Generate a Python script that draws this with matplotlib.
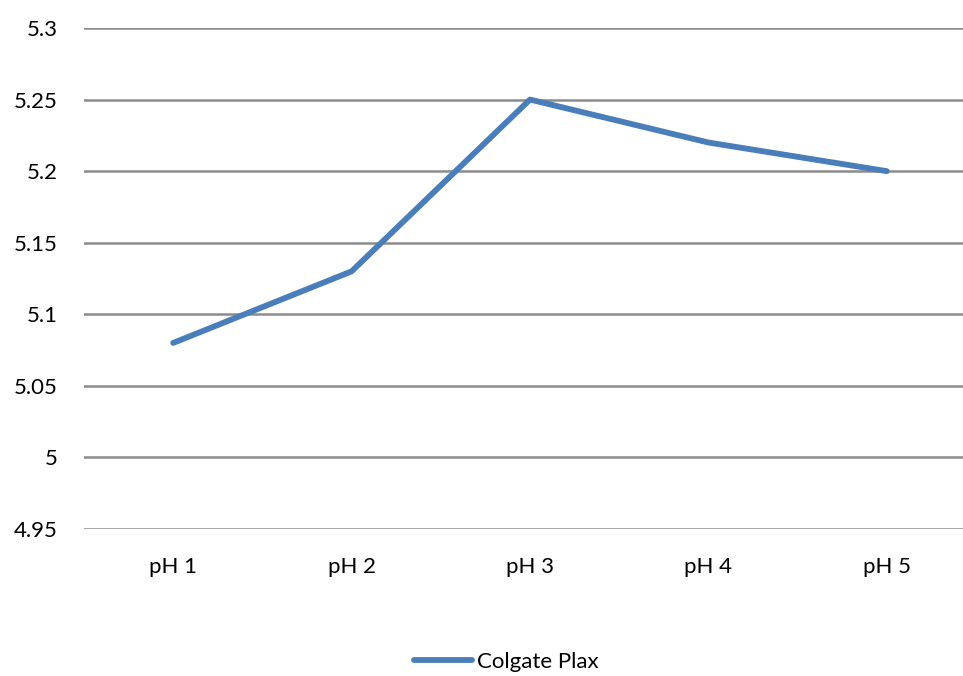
import matplotlib.pyplot as plt
from matplotlib.lines import Line2D

plt.rcParams['font.family'] = ['Lato', 'DejaVu Sans']

categories = ["pH 1", "pH 2", "pH 3", "pH 4", "pH 5"]
colgate_plax = [5.08, 5.13, 5.25, 5.22, 5.20]
yticks = [4.95, 5, 5.05, 5.1, 5.15, 5.2, 5.25, 5.3]
ytick_labels = ["4.95", "5", "5.05", "5.1", "5.15", "5.2", "5.25", "5.3"]

fig = plt.figure(figsize=(9.63, 6.76), dpi=100)
ax = fig.add_axes([84/963, 1 - 529/676, 892/963, 501/676])

x = range(len(categories))
ax.plot(x, colgate_plax, color="#4a7ebb", lw=4.2, solid_capstyle="round", zorder=3)

ax.set_xlim(-0.5, len(categories) - 0.5)
ax.set_ylim(4.95, 5.3)
ax.set_yticks(yticks)
ax.set_yticklabels(ytick_labels)
ax.set_xticks(list(x))
ax.set_xticklabels(categories)
ax.tick_params(length=0, labelsize=16, colors="black")
ax.tick_params(axis="y", pad=19)
ax.tick_params(axis="x", pad=20)

ax.yaxis.grid(True, color="#8c8c8c", lw=1.8)
for s in ax.spines.values():
    s.set_visible(False)

handle = Line2D([], [], color="#4a7ebb", lw=4.2, solid_capstyle="round")
fig.legend([handle], ["Colgate Plax"], loc="center", bbox_to_anchor=(0.526, 1 - 662/676),
           frameon=False, fontsize=16, handlelength=2.6, handletextpad=0.25)

fig.savefig("out.png", dpi=100)
